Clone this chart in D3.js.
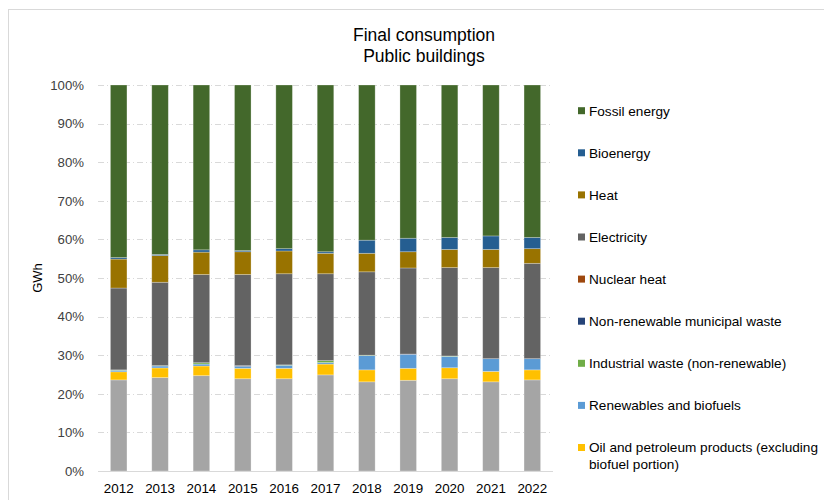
<!DOCTYPE html>
<html>
<head>
<meta charset="utf-8">
<script src="https://cdn.jsdelivr.net/npm/d3@7"></script>
<style>
  body { margin: 0; background: #fff; }
  svg { display: block; font-family: "Liberation Sans", Arial, sans-serif; }
</style>
</head>
<body>
<div id="chart"></div>
<script>
// Years (x axis categories)
const years = ["2012", "2013", "2014", "2015", "2016", "2017", "2018", "2019", "2020", "2021", "2022"]

// Series, stacked from bottom to top (shares in %)
const seriesNames = [
    "Other",
    "Oil and petroleum products (excluding biofuel portion)",
    "Renewables and biofuels",
    "Industrial waste (non-renewable)",
    "Non-renewable municipal waste",
    "Nuclear heat",
    "Electricity",
    "Heat",
    "Bioenergy",
    "Fossil energy"
]
const seriesColors = ["#a5a5a5", "#ffc000", "#5b9bd5", "#70ad47", "#264478", "#9e480e", "#636363", "#997300", "#255e91", "#43682b"]

const other       = [23.6, 24.2, 24.7, 23.9, 23.9, 24.9, 23.1, 23.5, 23.9, 23.1, 23.6]
const oil         = [2.1, 2.5, 2.5, 2.7, 2.7, 2.8, 3.1, 3.1, 2.85, 2.7, 2.6]
const renewables  = [0.4, 0.5, 0.5, 0.5, 0.8, 0.4, 3.7, 3.6, 2.95, 3.3, 2.9]
const industrial  = [0.1, 0.1, 0.35, 0, 0.1, 0.5, 0.1, 0, 0.1, 0, 0]
const municipal   = [0, 0, 0, 0.2, 0, 0, 0, 0.1, 0, 0, 0]
const nuclear     = [0, 0, 0, 0, 0, 0, 0, 0, 0, 0, 0]
const electricity = [21.2, 21.6, 22.85, 23.6, 23.6, 22.5, 21.6, 22.3, 22.9, 23.6, 24.7]
const heat        = [7.5, 6.9, 5.8, 5.9, 5.9, 5.3, 4.8, 4.2, 4.7, 4.7, 3.8]
const bioenergy   = [0.4, 0.3, 0.6, 0.3, 0.6, 0.4, 3.4, 3.5, 3.1, 3.5, 2.9]
const fossil      = [44.7, 43.9, 42.7, 42.9, 42.4, 43.2, 40.2, 39.7, 39.5, 39.1, 39.5]

const seriesValues = [other, oil, renewables, industrial, municipal, nuclear, electricity, heat, bioenergy, fossil]

// Legend entries that wrap on two lines
const legendLines = {
    "Oil and petroleum products (excluding biofuel portion)": ["Oil and petroleum products (excluding", "biofuel portion)"]
}

const yTicks = [0, 0.1, 0.2, 0.3, 0.4, 0.5, 0.6, 0.7, 0.8, 0.9, 1]

// Table for d3.stack
const table = years.map((year, i) => {
    let row = { year: year }
    seriesNames.forEach((name, s) => { row[name] = seriesValues[s][i] })
    return row
})

const W = 824, H = 500
const plot = { left: 98, right: 553, top: 85, bottom: 471 }

const svg = d3.select("#chart")
    .append("svg")
    .attr("width", W)
    .attr("height", H)

// Chart border
svg.append("rect")
    .attr("x", 8.5)
    .attr("y", 9.5)
    .attr("width", 830)
    .attr("height", 510)
    .attr("fill", "#fff")
    .attr("stroke", "#d9d9d9")

// Title
const title = svg.append("text")
    .attr("text-anchor", "middle")
    .attr("font-size", 17.5)
    .attr("fill", "#000")
title.append("tspan").attr("x", 424).attr("y", 41).text("Final consumption")
title.append("tspan").attr("x", 424).attr("y", 62).text("Public buildings")

/* ---------------- SCALES ---------------- */
const x = d3.scaleBand()
    .domain(years)
    .range([plot.left, plot.right])
    .paddingInner(0.6)
    .paddingOuter(0.3)

const y = d3.scaleLinear()
    .domain([0, 1])
    .range([plot.bottom, plot.top])

/* ---------------- GRID + AXES ---------------- */
svg.append("g")
    .selectAll("line")
    .data(yTicks.filter(d => d > 0))
    .join("line")
    .attr("x1", plot.left)
    .attr("x2", plot.right)
    .attr("y1", d => Math.round(y(d)) + 0.5)
    .attr("y2", d => Math.round(y(d)) + 0.5)
    .attr("stroke", "#d9d9d9")
    .attr("stroke-dasharray", "6,3,1,3")

const yAxis = svg.append("g")
    .attr("transform", `translate(${plot.left - 14},0)`)
    .call(d3.axisLeft(y).tickValues(yTicks).tickFormat(d3.format(".0%")).tickSize(0).tickPadding(0))
yAxis.select(".domain").remove()
yAxis.selectAll("text")
    .attr("font-size", 13.2)
    .attr("font-family", "Liberation Sans, Arial, sans-serif")
    .attr("fill", "#404040")

const xAxis = svg.append("g")
    .attr("transform", `translate(0,${plot.bottom})`)
    .call(d3.axisBottom(x).tickSize(0).tickPadding(12))
xAxis.select(".domain").remove()
xAxis.selectAll("text")
    .attr("font-size", 13.4)
    .attr("font-family", "Liberation Sans, Arial, sans-serif")
    .attr("fill", "#000")

// Y axis title
svg.append("text")
    .attr("transform", "rotate(-90)")
    .attr("x", -278)
    .attr("y", 42)
    .attr("text-anchor", "middle")
    .attr("font-size", 13)
    .text("GWh")

/* ---------------- BARS ---------------- */
const stacked = d3.stack()
    .keys(seriesNames)
    .offset(d3.stackOffsetExpand)(table)

svg.append("g")
    .selectAll("g")
    .data(stacked)
    .join("g")
    .attr("fill", (d, i) => seriesColors[i])
    .selectAll("rect")
    .data(d => d)
    .join("rect")
    .attr("x", d => x(d.data.year))
    .attr("width", x.bandwidth())
    .attr("y", d => y(d[1]))
    .attr("height", d => y(d[0]) - y(d[1]))
    .attr("stroke", "#fff")
    .attr("stroke-opacity", 0.35)
    .attr("stroke-width", 0.75)

// Baseline
svg.append("line")
    .attr("x1", plot.left)
    .attr("x2", plot.right)
    .attr("y1", plot.bottom + 0.5)
    .attr("y2", plot.bottom + 0.5)
    .attr("stroke", "#d9d9d9")

/* ---------------- LEGEND ---------------- */
// the bottom (light gray) series entry falls below the picture, so it is left out
const legendNames = seriesNames.slice(1).reverse()
const legend = svg.append("g")
    .selectAll("g")
    .data(legendNames)
    .join("g")
    .attr("transform", (d, i) => `translate(578,${110.7 + i * 42.1})`)

legend.append("rect")
    .attr("x", 0)
    .attr("y", -3.5)
    .attr("width", 7)
    .attr("height", 7)
    .attr("fill", d => seriesColors[seriesNames.indexOf(d)])

legend.append("text")
    .attr("font-size", 13.6)
    .attr("fill", "#000")
    .each(function (d) {
        const lines = legendLines[d] || [d]
        lines.forEach((line, k) => {
            d3.select(this).append("tspan")
                .attr("x", 11)
                .attr("y", 4.8 + k * 16.5)
                .text(line)
        })
    })
</script>
</body>
</html>
